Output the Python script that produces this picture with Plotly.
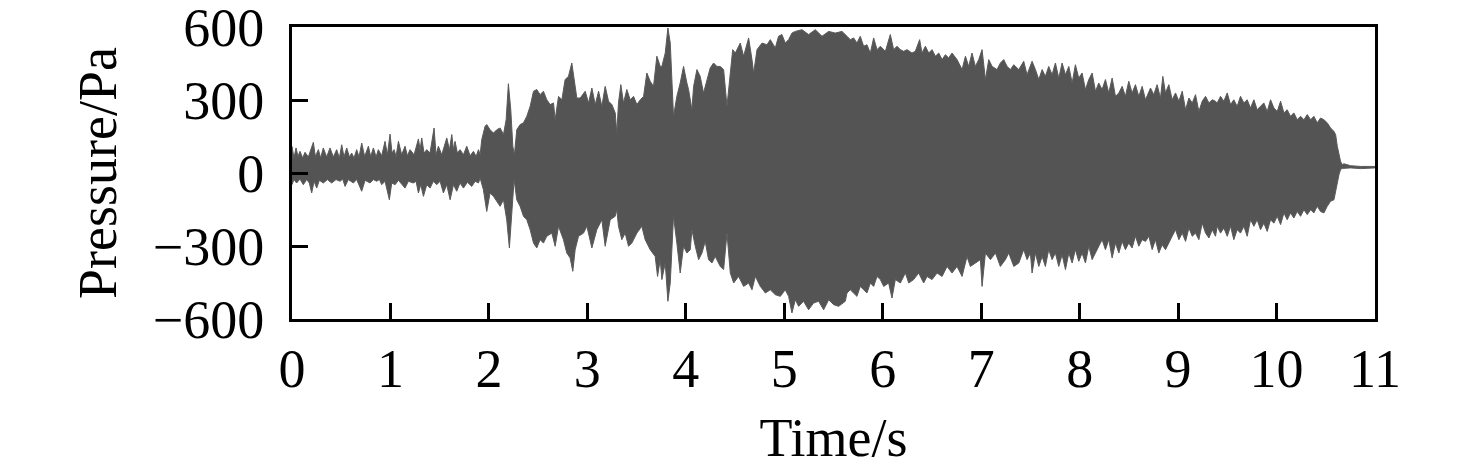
import plotly.graph_objects as go

# Upper envelope of the pressure trace (time in s, pressure in Pa)
upper_t = [0.000, 0.020, 0.041, 0.061, 0.081, 0.108, 0.132, 0.166, 0.217, 0.237, 0.268, 0.291,
           0.318, 0.352, 0.386, 0.420, 0.454, 0.481, 0.505, 0.528, 0.556, 0.583, 0.606, 0.630,
           0.657, 0.681, 0.708, 0.738, 0.776, 0.799, 0.827, 0.854, 0.877, 0.911, 0.945, 0.969,
           0.996, 1.016, 1.037, 1.057, 1.081, 1.114, 1.148, 1.172, 1.199, 1.240, 1.284, 1.301,
           1.318, 1.341, 1.369, 1.402, 1.443, 1.463, 1.487, 1.521, 1.572, 1.599, 1.623, 1.640,
           1.656, 1.680, 1.707, 1.741, 1.775, 1.809, 1.843, 1.870, 1.894, 1.911,
           1.927, 1.961, 1.978, 2.012, 2.046, 2.080, 2.114, 2.148, 2.175, 2.198, 2.222, 2.243,
           2.259, 2.283, 2.317, 2.351, 2.385, 2.419, 2.453, 2.486, 2.520, 2.554, 2.588, 2.622,
           2.656, 2.673, 2.707, 2.741, 2.774, 2.808, 2.842, 2.876, 2.893, 2.927, 2.978, 3.012,
           3.046, 3.080, 3.114, 3.147, 3.181, 3.215, 3.249, 3.283, 3.299, 3.316, 3.340, 3.367,
           3.401, 3.435, 3.469, 3.503, 3.537, 3.571, 3.604, 3.638, 3.672, 3.706, 3.740,
           3.757, 3.791, 3.818, 3.842, 3.875, 3.909, 3.943, 3.977, 4.011, 4.028, 4.062, 4.079,
           4.113, 4.146, 4.180, 4.214, 4.248, 4.282, 4.316, 4.350, 4.384, 4.418, 4.452, 4.476,
           4.503, 4.553, 4.587, 4.638, 4.672, 4.689, 4.723, 4.774, 4.824, 4.858, 4.909, 4.942,
           4.976, 5.010, 5.044, 5.078, 5.112, 5.180, 5.247, 5.315, 5.383, 5.451, 5.518, 5.586,
           5.637, 5.671, 5.705, 5.738, 5.772, 5.806, 5.840, 5.874, 5.908, 5.942, 5.976, 6.027,
           6.077, 6.111, 6.145, 6.179, 6.213, 6.247, 6.297, 6.331, 6.375, 6.399, 6.433, 6.467,
           6.501, 6.535, 6.569, 6.603, 6.636, 6.670, 6.704, 6.755, 6.806, 6.840, 6.873, 6.907,
           6.941, 6.975, 7.009, 7.043, 7.077, 7.111, 7.161, 7.195, 7.229, 7.263, 7.297, 7.331,
           7.382, 7.432, 7.466, 7.500,
           7.517, 7.551, 7.585, 7.619, 7.652, 7.686, 7.720, 7.754, 7.788, 7.822, 7.856, 7.890,
           7.924, 7.957, 7.991, 8.025, 8.059, 8.093, 8.127, 8.161, 8.194, 8.228, 8.262, 8.296,
           8.330, 8.364, 8.398, 8.432, 8.465, 8.499, 8.533, 8.567, 8.601, 8.635, 8.669, 8.720,
           8.753, 8.787, 8.821, 8.845, 8.872, 8.906, 8.940, 8.974, 9.008, 9.042, 9.076, 9.110,
           9.144, 9.177, 9.211, 9.245, 9.279, 9.313, 9.347, 9.380,
           9.397, 9.431, 9.465, 9.499, 9.533, 9.566, 9.600, 9.634, 9.668, 9.702, 9.736, 9.770,
           9.803, 9.837, 9.871, 9.905, 9.939, 9.973, 10.007, 10.041, 10.075, 10.108, 10.142,
           10.176, 10.210, 10.244, 10.278, 10.312, 10.346, 10.379, 10.413, 10.447, 10.481,
           10.515, 10.549, 10.583, 10.600, 10.617, 10.634, 10.650, 10.667, 10.684, 10.752,
           10.854, 11.000]
upper_pa = [110, 62, 103, 68, 89, 62, 85, 66, 126, 68, 96, 62,
            103, 66, 103, 66, 96, 62, 116, 66, 103, 66, 82, 62,
            96, 66, 123, 68, 110, 68, 103, 66, 96, 71, 130, 75,
            160, 82, 96, 68, 130, 75, 110, 71, 96, 75, 140, 96,
            144, 82, 96, 82, 185, 75, 110, 75, 144, 96, 158, 96,
            130, 82, 96, 75, 110, 71, 89, 68, 96, 75,
            137, 192, 199, 178, 164, 178, 185, 158, 219, 367, 260, 110,
            75, 178, 199, 206, 233, 274, 336, 343, 322, 336, 301, 281,
            288, 219, 315, 301, 384, 397, 452, 356, 308, 308, 336, 288,
            349, 281, 336, 274, 356, 295, 281, 247, 164, 288, 363, 288,
            343, 301, 315, 281, 301, 315, 411, 377, 356, 480, 438,
            438, 493, 596, 534, 233, 315, 370, 438, 370, 343, 260, 356,
            425, 397, 329, 384, 432, 452, 438, 438, 425, 274, 425, 507,
            493, 534, 480, 555, 466, 411, 507, 534, 527, 548, 514, 562,
            569, 534, 548, 575, 582, 589, 569, 589, 562, 582, 575, 582,
            562, 548, 555, 534, 562, 521, 527, 493, 555, 507, 521, 500,
            569, 507, 521, 507, 500, 507, 493, 500, 548, 493, 521, 493,
            507, 480, 493, 466, 486, 473, 493, 466, 425, 480, 438, 493,
            438, 466, 507, 384, 466, 438, 425, 452, 466, 438, 425, 445,
            425, 459, 404, 438,
            459, 425, 384, 425, 397, 438, 404, 452, 390, 452, 404, 438,
            370, 445, 390, 411, 343, 384, 411, 336, 370, 343, 384, 329,
            390, 315, 329, 356, 315, 377, 329, 363, 315, 356, 301, 349,
            322, 363, 308, 397, 329, 363, 301, 329, 295, 336, 260, 308,
            288, 322, 253, 295, 315, 288, 301, 295,
            288, 315, 295, 329, 281, 301, 274, 315, 288, 301, 267, 301,
            260, 274, 288, 253, 301, 267, 253, 295, 247, 260, 233,
            247, 219, 233, 219, 240, 219, 233, 206, 226, 219,
            206, 185, 171, 158, 110, 69, 48, 34, 38, 30,
            27, 27]

# Lower envelope of the pressure trace
lower_t = [0.000, 0.020, 0.047, 0.081, 0.115, 0.149, 0.176, 0.200, 0.224, 0.251, 0.278, 0.318,
           0.359, 0.403, 0.447, 0.488, 0.515, 0.539, 0.572, 0.623, 0.657, 0.708, 0.742, 0.793,
           0.827, 0.860, 0.888, 0.911, 0.945, 0.989, 1.013, 1.047, 1.081, 1.148, 1.182, 1.233,
           1.260, 1.284, 1.308, 1.335, 1.369, 1.402, 1.436, 1.470, 1.504, 1.538, 1.572, 1.606,
           1.640, 1.673, 1.707, 1.741, 1.782, 1.826, 1.860, 1.894, 1.911,
           1.944, 1.978, 2.012, 2.046, 2.080, 2.114, 2.148, 2.181, 2.208, 2.232, 2.256, 2.283,
           2.317, 2.351, 2.385, 2.419, 2.453, 2.486, 2.520, 2.554, 2.588, 2.639, 2.673, 2.707,
           2.757, 2.791, 2.825, 2.852, 2.876, 2.910, 2.961, 2.995, 3.046, 3.096, 3.147, 3.181,
           3.232, 3.283, 3.299, 3.316, 3.350, 3.384, 3.418, 3.452, 3.503, 3.553, 3.587, 3.638,
           3.689, 3.713, 3.740,
           3.757, 3.791, 3.818, 3.842, 3.875, 3.909, 3.943, 3.977, 4.011, 4.045, 4.062, 4.096,
           4.130, 4.164, 4.197, 4.231, 4.265, 4.299, 4.350, 4.384, 4.418, 4.452, 4.486, 4.536,
           4.587, 4.638, 4.672, 4.706, 4.757, 4.808, 4.858, 4.909, 4.960, 5.010, 5.044, 5.078,
           5.112, 5.146, 5.196, 5.247, 5.298, 5.349, 5.400, 5.451, 5.501, 5.552, 5.620,
           5.637, 5.671, 5.705, 5.738, 5.772, 5.806, 5.840, 5.874, 5.908, 5.942, 5.976, 6.010,
           6.060, 6.094, 6.128, 6.179, 6.230, 6.264, 6.314, 6.365, 6.416, 6.450, 6.501, 6.552,
           6.603, 6.653, 6.704, 6.755, 6.806, 6.856, 6.890, 6.941, 6.992, 7.009, 7.043, 7.094,
           7.145, 7.195, 7.246, 7.280, 7.331, 7.382, 7.432, 7.466, 7.500,
           7.517, 7.551, 7.585, 7.619, 7.652, 7.686, 7.720, 7.754, 7.788, 7.822, 7.856, 7.890,
           7.924, 7.957, 7.991, 8.025, 8.059, 8.093, 8.127, 8.161, 8.194, 8.228, 8.262, 8.296,
           8.330, 8.364, 8.398, 8.432, 8.465, 8.499, 8.533, 8.567, 8.601, 8.635, 8.669, 8.703,
           8.737, 8.770, 8.804, 8.838, 8.872, 8.906, 8.940, 8.974, 9.008, 9.042, 9.076, 9.110,
           9.144, 9.177, 9.211, 9.245, 9.279, 9.313, 9.347, 9.380,
           9.397, 9.431, 9.465, 9.499, 9.533, 9.566, 9.600, 9.634, 9.668, 9.702, 9.736, 9.770,
           9.803, 9.837, 9.871, 9.905, 9.939, 9.973, 10.007, 10.041, 10.075, 10.108, 10.142,
           10.176, 10.210, 10.244, 10.278, 10.312, 10.346, 10.379, 10.413, 10.447, 10.481,
           10.515, 10.549, 10.583, 10.600, 10.617, 10.634, 10.650, 10.667, 10.752, 10.854,
           11.000]
lower_pa = [-48, -27, -41, -25, -48, -27, -41, -82, -34, -62, -30, -41,
            -27, -41, -27, -34, -25, -55, -27, -41, -27, -75, -30, -41,
            -27, -34, -27, -48, -34, -110, -41, -48, -30, -62, -34, -41,
            -34, -82, -48, -96, -48, -62, -34, -48, -34, -82, -48, -110,
            -48, -75, -41, -62, -38, -55, -34, -41, -21,
            -69, -158, -82, -96, -116, -137, -110, -192, -308, -164, -27, -110,
            -137, -178, -192, -233, -288, -308, -274, -288, -260, -247, -301, -219,
            -274, -329, -349, -404, -315, -260, -247, -219, -308, -233, -192, -301,
            -192, -178, -151, -219, -274, -247, -301, -288, -247, -219, -274, -315,
            -343, -425, -356,
            -438, -370, -527, -452, -178, -288, -411, -301, -329, -315, -233, -301,
            -356, -329, -281, -356, -370, -343, -384, -397, -247, -411, -452, -425,
            -466, -452, -480, -425, -466, -493, -480, -500, -507, -480, -507, -575,
            -521, -548, -527, -562, -534, -527, -562, -521, -541, -548, -527,
            -493, -480, -493, -507, -466, -480, -493, -452, -466, -425, -438, -466,
            -452, -514, -438, -452, -411, -452, -438, -411, -452, -425, -438, -411,
            -425, -384, -411, -384, -425, -343, -384, -370, -356, -466, -329, -356,
            -329, -384, -356, -329, -384, -370, -315, -356, -329,
            -411, -329, -384, -343, -384, -315, -356, -329, -384, -336, -397, -329,
            -370, -315, -363, -329, -370, -301, -356, -329, -301, -274, -315, -274,
            -349, -288, -329, -281, -315, -288, -308, -260, -301, -274, -281, -260,
            -315, -274, -329, -295, -315, -288, -260, -233, -274, -247, -281, -226,
            -260, -247, -274, -206, -247, -267, -233, -260,
            -219, -247, -226, -260, -219, -274, -233, -247, -219, -260, -192, -219,
            -192, -233, -206, -240, -192, -206, -178, -212, -164, -192, -164,
            -185, -158, -178, -151, -171, -151, -164, -137, -158, -164,
            -137, -116, -110, -82, -41, -7, 14, 19, 21, 18,
            21]

x_ticks = [0, 1, 2, 3, 4, 5, 6, 7, 8, 9, 10, 11]
y_ticks = [-600, -300, 0, 300, 600]
y_tick_text = ["\u2212600", "\u2212300", "0", "300", "600"]

poly_x = upper_t + lower_t[::-1]
poly_y = upper_pa + lower_pa[::-1]

fig = go.Figure()
fig.add_trace(go.Scatter(
    x=poly_x, y=poly_y, mode="lines", fill="toself",
    fillcolor="#545454", line=dict(color="#5a5a5a", width=1),
    hoverinfo="skip", showlegend=False))

font_family = "Liberation Serif, Times New Roman, serif"
axis_common = dict(showline=True, linecolor="black", linewidth=3, mirror=True,
                   ticks="inside", ticklen=16, tickwidth=3, tickcolor="black",
                   showgrid=False, zeroline=False, automargin=False,
                   ticklabeloverflow="allow",
                   tickfont=dict(family=font_family, size=54, color="black"))

# The page body adds an 8 px offset; size and margins compensate for it.
fig.update_layout(
    width=1468, height=467,
    margin=dict(l=284, r=101, t=19, b=156),
    paper_bgcolor="white", plot_bgcolor="white",
    xaxis=dict(range=[0, 11], tickvals=x_ticks,
               title=dict(text="Time/s", font=dict(family=font_family, size=54, color="black"), standoff=21),
               **axis_common),
    yaxis=dict(range=[-600, 600], tickvals=y_ticks, ticktext=y_tick_text,
               ticklabelstandoff=14,
               title=dict(text="Pressure/Pa", font=dict(family=font_family, size=54, color="black"), standoff=19),
               **axis_common),
)

fig.write_html("out.html")
